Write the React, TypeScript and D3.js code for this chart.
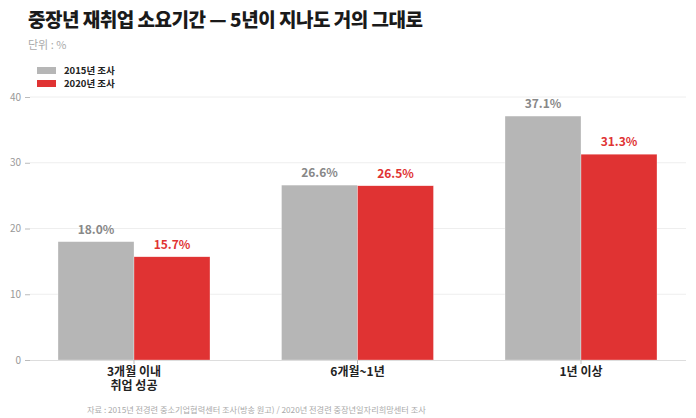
import React, { useEffect, useRef } from 'react';
import * as d3 from 'd3';

const categories = ['3개월 이내\n취업 성공', '6개월~1년', '1년 이상'];
const seriesNames = ['2015년 조사', '2020년 조사'];
const values2015 = [18.0, 26.6, 37.1];
const values2020 = [15.7, 26.5, 31.3];
const yTicks = [0, 10, 20, 30, 40];

const colors = ['#b6b6b6', '#e03333'];
const labelColors = ['#888888', '#e03333'];
const FONT = '"Noto Sans CJK KR", "Noto Sans", sans-serif';

export default function App() {
  const svgRef = useRef<SVGSVGElement>(null);

  useEffect(() => {
    if (!svgRef.current) return;
    const width = 696;
    const height = 418;
    const svg = d3.select(svgRef.current);
    svg.selectAll('*').remove();
    svg.attr('width', width).attr('height', height).style('font-family', FONT);

    const plotLeft = 30;
    const plotRight = 686;

    const x0 = d3.scaleBand<string>()
      .domain(categories)
      .range([22.25, 692.75])
      .paddingInner(0.32)
      .paddingOuter(0.16);

    const x1 = d3.scaleBand<string>()
      .domain(seriesNames)
      .range([0, x0.bandwidth()]);

    const y = d3.scaleLinear().domain([0, 40]).range([360, 97]);

    // Title
    svg.append('text')
      .attr('x', 28).attr('y', 27)
      .text('중장년 재취업 소요기간 — 5년이 지나도 거의 그대로')
      .style('font-size', '19px').style('font-weight', 900)
      .style('fill', '#1a1a1a').style('letter-spacing', '-0.5px');

    svg.append('text')
      .attr('x', 28).attr('y', 49)
      .text('단위 : %')
      .style('font-size', '11px').style('fill', '#aaaaaa');

    // Legend
    seriesNames.forEach((name, i) => {
      const g = svg.append('g').attr('transform', `translate(37, ${67 + i * 13})`);
      g.append('rect').attr('width', 19).attr('height', 7).attr('fill', colors[i]);
      g.append('text').attr('x', 27).attr('y', 7)
        .text(name)
        .style('font-size', '9.5px').style('font-weight', 700).style('fill', '#222');
    });

    // Grid
    svg.append('g')
      .selectAll('line')
      .data(yTicks.filter(t => t > 0))
      .join('line')
      .attr('x1', plotLeft).attr('x2', plotRight)
      .attr('y1', d => y(d)).attr('y2', d => y(d))
      .attr('stroke', '#eeeeee').attr('stroke-width', 1);

    // Y axis
    const yAxis = svg.append('g')
      .attr('transform', `translate(${plotLeft},0)`)
      .call(d3.axisLeft(y).tickValues(yTicks).tickSize(5).tickPadding(4));
    yAxis.select('.domain').remove();
    yAxis.selectAll('line').attr('stroke', '#bbbbbb');
    yAxis.selectAll('text')
      .style('font-size', '10px').style('fill', '#999999').style('font-family', FONT);

    // Bars
    const groups = svg.append('g')
      .selectAll('g')
      .data(categories)
      .join('g')
      .attr('transform', d => `translate(${x0(d)},0)`);

    const barData = (ci: number) => [
      { key: seriesNames[0], value: values2015[ci], s: 0 },
      { key: seriesNames[1], value: values2020[ci], s: 1 },
    ];

    groups.selectAll('rect')
      .data((_d, ci) => barData(ci))
      .join('rect')
      .attr('x', d => x1(d.key) || 0)
      .attr('y', d => y(d.value))
      .attr('width', x1.bandwidth())
      .attr('height', d => 360 - y(d.value))
      .attr('fill', d => colors[d.s])
      .attr('stroke', 'rgba(255,255,255,0.6)')
      .attr('stroke-width', 0.5);

    groups.selectAll('text.val')
      .data((_d, ci) => barData(ci))
      .join('text')
      .attr('class', 'val')
      .attr('x', d => (x1(d.key) || 0) + x1.bandwidth() / 2)
      .attr('y', d => y(d.value) - 8)
      .attr('text-anchor', 'middle')
      .text(d => `${d.value.toFixed(1)}%`)
      .style('font-size', '12px').style('font-weight', 700)
      .style('fill', d => labelColors[d.s]);

    // X axis
    svg.append('line')
      .attr('x1', plotLeft).attr('x2', plotRight)
      .attr('y1', 360.5).attr('y2', 360.5)
      .attr('stroke', '#dddddd');

    svg.append('g')
      .selectAll('line')
      .data(categories)
      .join('line')
      .attr('x1', d => (x0(d) || 0) + x0.bandwidth() / 2)
      .attr('x2', d => (x0(d) || 0) + x0.bandwidth() / 2)
      .attr('y1', 360).attr('y2', 364)
      .attr('stroke', '#bbbbbb');

    const catLabels = svg.append('g')
      .selectAll('text')
      .data(categories)
      .join('text')
      .attr('x', d => (x0(d) || 0) + x0.bandwidth() / 2)
      .attr('y', 376)
      .attr('text-anchor', 'middle')
      .style('font-size', '12px').style('font-weight', 700).style('fill', '#222');
    catLabels.each(function (d) {
      const t = d3.select(this);
      d.split('\n').forEach((line, i) => {
        t.append('tspan')
          .attr('x', (x0(d) || 0) + x0.bandwidth() / 2)
          .attr('dy', i === 0 ? 0 : 14)
          .text(line);
      });
    });

    // Source
    svg.append('text')
      .attr('x', 87).attr('y', 413)
      .text('자료 : 2015년 전경련 중소기업협력센터 조사(방송 원고) / 2020년 전경련 중장년일자리희망센터 조사')
      .style('font-size', '8.2px').style('fill', '#aaaaaa');
  }, []);

  return (
    <div style={{ position: 'absolute', left: 0, top: 0, width: 696, height: 418, background: '#fff' }}>
      <svg ref={svgRef} />
    </div>
  );
}
